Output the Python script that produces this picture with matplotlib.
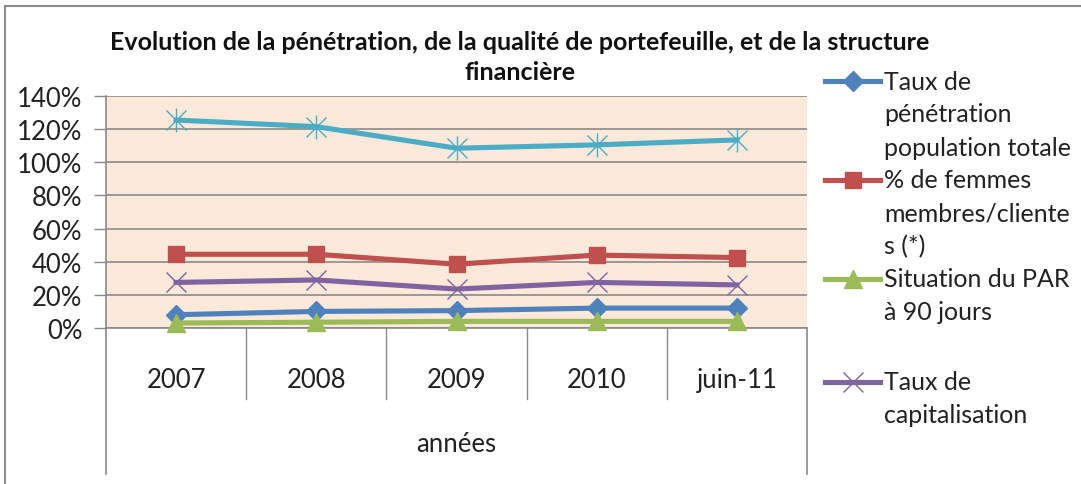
import matplotlib.pyplot as plt
from matplotlib.lines import Line2D
import numpy as np

plt.rcParams['font.family'] = ['Lato', 'DejaVu Sans']

# données (en %)
categories = ['2007', '2008', '2009', '2010', 'juin-11']
taux_penetration = [8, 10, 10.5, 12, 12]
femmes = [44.5, 44.5, 38.5, 44, 42.5]
par_90 = [3, 3.5, 4, 4, 4]
capitalisation = [27.5, 29, 23.5, 27.5, 26]
autre = [125.5, 121.5, 108.5, 110.5, 113.5]

legend_labels = [
    ['Taux de', 'pénétration', 'population totale'],
    ['% de femmes', 'membres/cliente', 's (*)'],
    ['Situation du PAR', 'à 90 jours'],
    ['Taux de', 'capitalisation'],
]

title_lines = ["Evolution de la pénétration, de la qualité de portefeuille, et de la structure",
               "financière"]

W, H = 1081, 485
fig = plt.figure(figsize=(W / 100, H / 100), dpi=100)
fig.patch.set_facecolor('white')

# cadre gris du graphique (haut et gauche)
fig.add_artist(Line2D([5 / W, 5 / W], [0, 1 - 7 / H], color='#8c8c8c', lw=1.5))
fig.add_artist(Line2D([5 / W, 1], [1 - 7 / H, 1 - 7 / H], color='#8c8c8c', lw=1.5))

ax = fig.add_axes([106 / W, 1 - 329 / H, 701 / W, 232 / H])
ax.set_facecolor('#fde9d9')
x = np.arange(len(categories))

styles = [
    (taux_penetration, '#4f81bd', 'D', 10, 1),
    (femmes, '#c0504d', 's', 12, 1),
    (par_90, '#9bbb59', '^', 13, 1),
    (capitalisation, '#8064a2', 'x', 14, 1),
]
for vals, col, mk, ms, mew in styles:
    ax.plot(x, vals, color=col, lw=3.7, marker=mk, ms=ms, mew=mew,
            mec=col, mfc=col, clip_on=False, zorder=3)
# série cyan : marqueur étoile (x + barre verticale)
ax.plot(x, autre, color='#4bacc6', lw=3.7, marker='x', ms=14, mew=1,
        clip_on=False, zorder=3)
ax.plot(x, autre, color='#4bacc6', ls='none', marker='|', ms=17, mew=1,
        clip_on=False, zorder=3)

ax.set_xlim(-0.5, len(categories) - 0.5)
ax.set_ylim(0, 140)
yt = np.arange(0, 141, 20)
ax.set_yticks(yt)
ax.set_yticklabels([f'{v}%' for v in yt], fontsize=18.5, color='#222222')
ax.yaxis.grid(True, color='#8a8a8a', lw=1.2)
ax.set_axisbelow(True)
ax.tick_params(axis='y', length=9, width=1, color='#8a8a8a', pad=8)

ax.set_xticks(x)
ax.set_xticklabels(categories, fontsize=18.5, color='#222222')
ax.tick_params(axis='x', length=0, pad=28)

for s in ['top', 'right']:
    ax.spines[s].set_visible(False)
ax.spines['left'].set_color('#8a8a8a')
ax.spines['bottom'].set_color('#8a8a8a')
ax.spines['left'].set_linewidth(1.2)
ax.spines['bottom'].set_linewidth(1.2)

# tableau des catégories sous l'axe
tr = ax.get_xaxis_transform()
for b in np.arange(0.5, len(categories) - 1, 1):
    ax.plot([b, b], [0, -71 / 232], color='#8a8a8a', lw=1, transform=tr, clip_on=False)
for b in [-0.5, len(categories) - 0.5]:
    ax.plot([b, b], [0, -146 / 232], color='#8a8a8a', lw=1.2, transform=tr, clip_on=False)
ax.text(0.5, -116 / 232, 'années', transform=ax.transAxes, ha='center', va='center',
        fontsize=18.5, color='#222222')

# titre sur deux lignes
for t, yy in zip(title_lines, [42, 72]):
    fig.text(520 / W, 1 - yy / H, t, ha='center', va='center', fontsize=18,
             fontweight='bold', color='#111111')

# légende à droite
cols = ['#4f81bd', '#c0504d', '#9bbb59', '#8064a2']
mks = [('D', 10), ('s', 12), ('^', 13), ('x', 14)]
y0, step = 82, 33
ypos = [y0, y0 + 3 * step, y0 + 6 * step, y0 + 8 * step + 37]
for lines, col, (mk, ms), yy in zip(legend_labels, cols, mks, ypos):
    fy = 1 - yy / H
    fig.add_artist(Line2D([825 / W, 880 / W], [fy, fy], color=col, lw=3.7))
    fig.add_artist(Line2D([852.5 / W], [fy], color=col, marker=mk, ms=ms, mew=1,
                          mfc=col, mec=col, ls='none'))
    for i, t in enumerate(lines):
        fig.text(884 / W, 1 - (yy + i * step) / H, t, ha='left', va='center',
                 fontsize=18, color='#222222')

fig.savefig('out.png', dpi=100)
